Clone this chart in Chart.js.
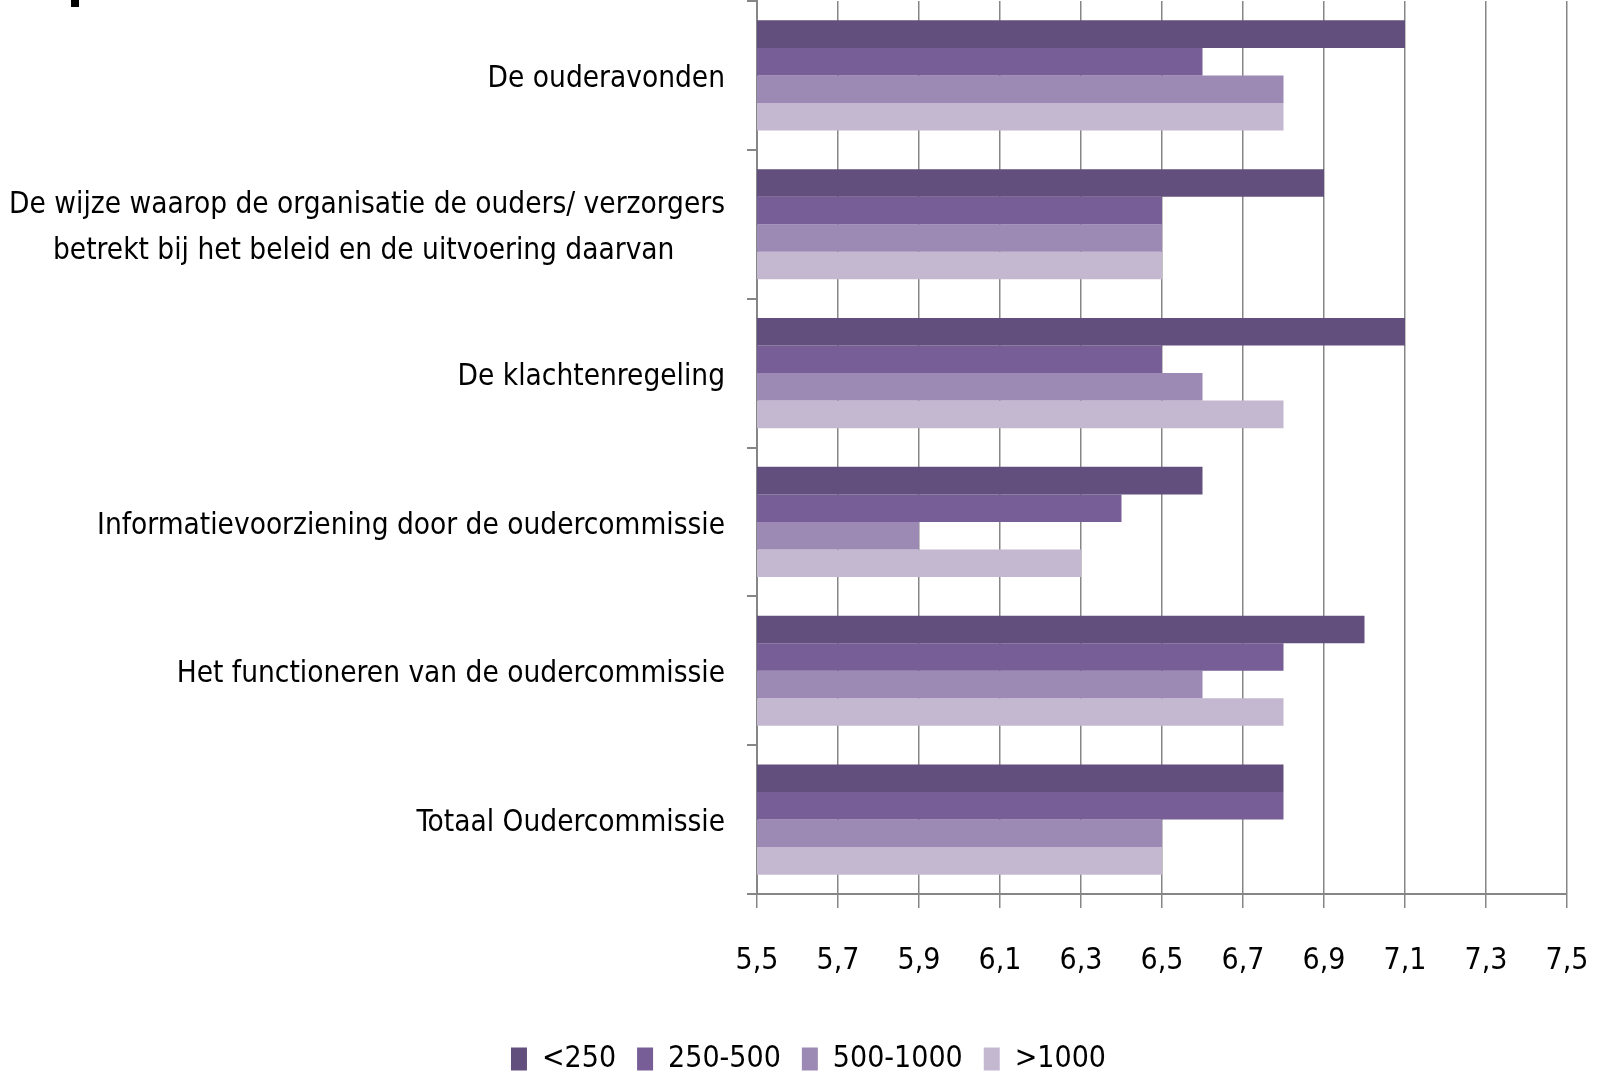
<!DOCTYPE html>
<html>
<head>
<meta charset="utf-8">
<script src="https://cdn.jsdelivr.net/npm/chart.js@4.4.1/dist/chart.umd.min.js"></script>
<style>
  html, body { margin: 0; padding: 0; background: #fff; overflow: hidden; }
  #wrap { position: relative; width: 1600px; height: 1073px; overflow: hidden; }
  #frag { position: absolute; left: 71px; top: 0; width: 8px; height: 7px; background: #000; }
  canvas { position: absolute; left: 0; top: 0; }
</style>
</head>
<body>
<div id="wrap">
  <canvas id="c" width="1600" height="1084"></canvas>
  <div id="frag"></div>
</div>
<script>
const categories = [
  "De ouderavonden",
  ["De wijze waarop de organisatie de ouders/ verzorgers", "betrekt bij het beleid en de uitvoering daarvan      "],
  "De klachtenregeling",
  "Informatievoorziening door de oudercommissie",
  "Het functioneren van de oudercommissie",
  "Totaal Oudercommissie"
];
const seriesNames = ["<250", "250-500", "500-1000", ">1000"];
const valuesLt250 = [7.1, 6.9, 7.1, 6.6, 7.0, 6.8];
const values250to500 = [6.6, 6.5, 6.5, 6.4, 6.8, 6.8];
const values500to1000 = [6.8, 6.5, 6.6, 5.9, 6.6, 6.5];
const valuesGt1000 = [6.8, 6.5, 6.8, 6.3, 6.8, 6.5];
const xMin = 5.5, xMax = 7.5, xStep = 0.2;

const colors = ["#634f7d", "#775e96", "#9c89b4", "#c3b8d0"];
const seriesValues = [valuesLt250, values250to500, values500to1000, valuesGt1000];
const FONT = "'Liberation Sans Narrow', 'DejaVu Sans Condensed', 'Arial Narrow', sans-serif";
const GRID = "#868686";

const shiftLegend = {
  id: 'shiftLegend',
  afterLayout(chart) { if (chart.legend) { chart.legend.left += 50; } }
};

new Chart(document.getElementById('c'), {
  type: 'bar',
  data: {
    labels: categories,
    datasets: seriesNames.map((n, i) => ({
      label: n,
      data: seriesValues[i],
      backgroundColor: colors[i],
      borderWidth: 0,
      categoryPercentage: 0.74,
      barPercentage: 1.0
    }))
  },
  plugins: [shiftLegend],
  options: {
    indexAxis: 'y',
    responsive: false,
    animation: false,
    layout: { padding: { top: 1, right: 33, left: 0, bottom: 0 } },
    plugins: {
      legend: {
        position: 'bottom',
        labels: {
          boxWidth: 16,
          boxHeight: 23,
          padding: 21,
          color: '#000',
          font: { family: FONT, size: 30 }
        }
      },
      tooltip: { enabled: false }
    },
    scales: {
      x: {
        type: 'linear',
        min: xMin,
        max: xMax,
        ticks: {
          stepSize: xStep,
          color: '#000',
          padding: 35,
          font: { family: FONT, size: 30 },
          callback: v => v.toFixed(1).replace('.', ',')
        },
        grid: { color: GRID, lineWidth: 1.5, tickLength: 14, drawTicks: true },
        border: { display: true, color: GRID, width: 2 },
        afterFit: s => { s.height = 129; s.paddingLeft = 0; s.paddingRight = 0; }
      },
      y: {
        type: 'category',
        ticks: {
          color: '#000',
          padding: 22,
          labelOffset: 4,
          font: { family: FONT, size: 29.5, lineHeight: 1.55 }
        },
        grid: { display: true, drawOnChartArea: false, drawTicks: true, tickLength: 10, color: GRID, lineWidth: 2, offset: true },
        border: { display: true, color: GRID, width: 2 },
        afterFit: s => { s.width = 757; s.paddingTop = 0; s.paddingBottom = 0; }
      }
    }
  }
});
</script>
</body>
</html>
